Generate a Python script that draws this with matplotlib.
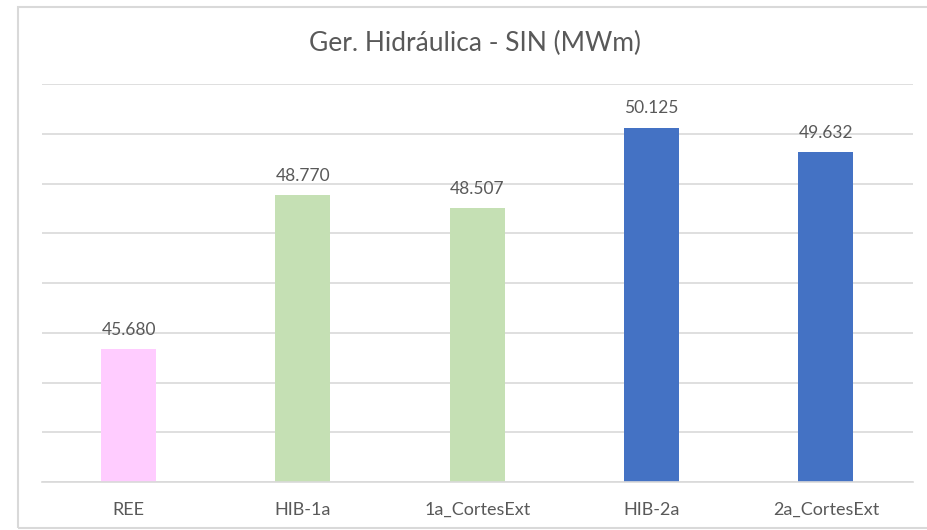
import matplotlib.pyplot as plt
from matplotlib.patches import Rectangle

categories = ['REE', 'HIB-1a', '1a_CortesExt', 'HIB-2a', '2a_CortesExt']
values = [45680, 48770, 48507, 50125, 49632]
colors = ['#FFCCFF', '#C5E0B4', '#C5E0B4', '#4472C4', '#4472C4']

plt.rcParams['font.family'] = ['Lato', 'DejaVu Sans']

fig = plt.figure(figsize=(9.27, 5.30), dpi=100)
# outer chart frame (cropped on right)
fig.patches.append(Rectangle((18/927, 2/530), 1.2, 521/530, transform=fig.transFigure,
                             fill=False, edgecolor='#d9d9d9', linewidth=1.5))

ax = fig.add_axes([41.5/927, 48/530, (913-41.5)/927, (482-84)/530])
x = range(len(categories))
ax.bar(x, values, width=0.316, color=colors, zorder=2)
ax.set_xlim(-0.5, 4.5)
ax.set_ylim(43000, 51000)
ax.set_yticks(range(43000, 51001, 1000))
ax.yaxis.grid(True, color='#d9d9d9', linewidth=1.2, zorder=0)
ax.set_axisbelow(True)
ax.tick_params(axis='y', left=False, labelleft=False)
ax.tick_params(axis='x', bottom=False, labelsize=13, labelcolor='#595959', pad=11)
ax.set_xticks(list(x))
ax.set_xticklabels(categories)
for s in ['top', 'right', 'left']:
    ax.spines[s].set_visible(False)
ax.spines['bottom'].set_color('#d9d9d9')
ax.spines['bottom'].set_linewidth(1.2)

for xi, v in zip(x, values):
    lbl = f'{v:,}'.replace(',', '.')
    ax.annotate(lbl, (xi, v), xytext=(0, 8), textcoords='offset points',
                ha='center', va='bottom', fontsize=12.5, color='#595959')

fig.text(475/927, 1 - 43/530, 'Ger. Hidráulica - SIN (MWm)', ha='center', va='center',
         fontsize=19, color='#595959')

fig.savefig('out.png', dpi=100)
